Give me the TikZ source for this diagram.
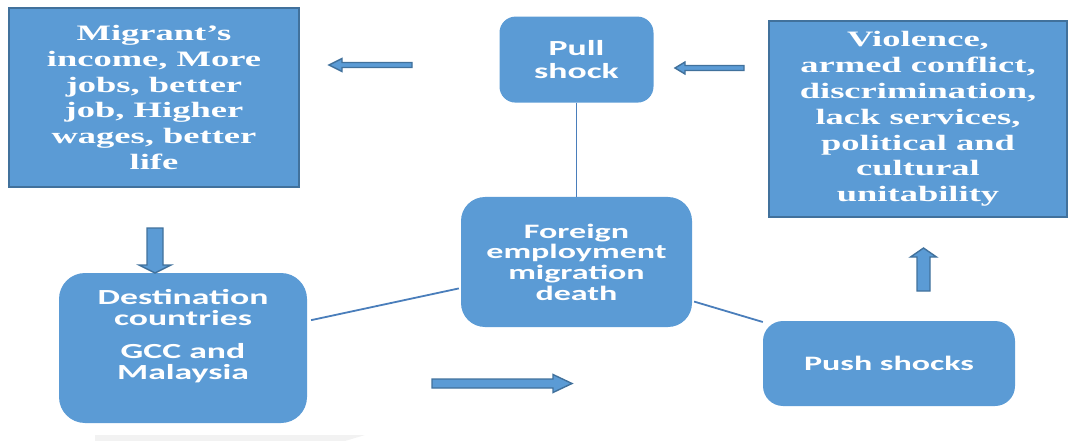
\documentclass[tikz,border=0pt]{standalone}
\usepackage{fontspec}
\newfontfamily\boxserif{Liberation Serif}[FakeStretch=1.66]
\newfontfamily\boxsans{Carlito}[FakeStretch=1.66]
\usetikzlibrary{positioning}
\definecolor{boxblue}{HTML}{5B9BD5}
\definecolor{edgeblue}{HTML}{41719C}
\definecolor{lineblue}{HTML}{4A7EBB}
% block arrow: tail x, tail y, angle, length, shaft, head width, head length
\newcommand{\blockarrow}[7]{%
 \begin{scope}[shift={(#1,#2)},rotate=#3]
  \draw[blockarr] (0,{-#5/2}) -- ({#4-#7},{-#5/2}) -- ({#4-#7},{-#6/2}) -- (#4,0)
   -- ({#4-#7},{#6/2}) -- ({#4-#7},{#5/2}) -- (0,{#5/2}) -- cycle;
 \end{scope}}

\begin{document}
\begin{tikzpicture}[x=1pt,y=-1pt,
 every node/.style={text=white,align=center,inner sep=0pt},
 sqbox/.style={rectangle,draw=edgeblue,line width=2pt,fill=boxblue,
  font=\boxserif\bfseries\fontsize{22}{25.8}\selectfont},
 rbox/.style={rectangle,rounded corners=22pt,fill=boxblue,
  font=\boxsans\bfseries\fontsize{20.5}{20.7}\selectfont},
 link/.style={draw=lineblue,line width=1.8pt},
 blockarr/.style={draw=edgeblue,line width=1.4pt,fill=boxblue}]
 \useasboundingbox (0,0) rectangle (1069,441);
 \fill[gray!10] (95,435) -- (365,435) -- (345,441) -- (95,441) -- cycle;
 \node[sqbox,minimum width=290pt,minimum height=179pt] (gain) at (154,97.5)
  {Migrant’s\\income, More\\jobs, better\\job, Higher\\wages, better\\life};
 \node[sqbox,minimum width=298pt,minimum height=196pt] (cause) at (918,119)
  {Violence,\\armed conflict,\\discrimination,\\lack services,\\political and\\cultural\\unitability};
 \node[rbox,minimum width=231pt,minimum height=130pt,rounded corners=24pt] (death) at (576.5,262)
  {Foreign\\employment\\migration\\death};
 \node[rbox,minimum width=154pt,minimum height=86pt,rounded corners=16pt,above=94pt of death,
  font=\boxsans\bfseries\fontsize{21.5}{23}\selectfont] (pull) {Pull\\shock};
 \node[rbox,minimum width=248pt,minimum height=150pt,rounded corners=26pt,
  font=\boxsans\bfseries\fontsize{21.5}{21}\selectfont] (dest) at (183,348)
  {Destination\\countries\\[12pt]GCC and\\Malaysia\\[6pt]\mbox{}};
 \node[rbox,minimum width=252pt,minimum height=85pt,rounded corners=20pt] (push) at (889,363.5)
  {Push shocks};
 \draw[link] (pull) -- (death);
 \draw[link,shorten <=4pt,shorten >=2pt] ([yshift=27pt]dest.east) -- ([yshift=-26pt]death.west);
 \draw[link,shorten <=2pt] ([yshift=-39pt]death.east) -- ([yshift=41.5pt]push.west);
 \blockarrow{412}{65}{180}{83}{5}{13}{13}
 \blockarrow{744}{68}{180}{69}{5}{12}{10}
 \blockarrow{155}{228}{-90}{45}{16}{32}{8}
 \blockarrow{923.5}{291}{90}{43}{13}{26}{9}
 \blockarrow{432}{383.5}{0}{140}{9}{18}{19}
\end{tikzpicture}
\end{document}
